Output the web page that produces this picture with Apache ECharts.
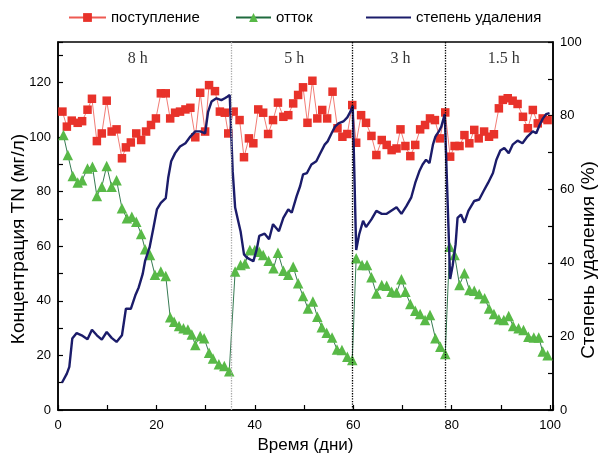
<!DOCTYPE html>
<html>
<head>
<meta charset="UTF-8">
<title>Концентрация TN</title>
<script src="https://cdn.jsdelivr.net/npm/echarts@6.0.0/dist/echarts.min.js"></script>
<style>html,body{margin:0;padding:0;background:#fff;}</style>
</head>
<body>
<div id="main" style="width:600px;height:456px;"></div>
<script type="text/javascript">
// поступление, мг/л  [день, значение]
var inflow = [
  [0.9,109.3],[1.8,103.8],[2.8,106],[4.0,105.2],[4.9,105.8],[6.0,110],[6.9,114],[7.9,98.5],[8.9,101.3],[9.9,113.3],
  [10.9,102],[11.9,102.8],[13.0,92.2],[13.8,96.2],[14.8,98],[15.9,101.3],[16.9,98.9],[17.9,102],[18.9,104.4],[19.9,106.8],
  [20.9,116],[21.9,116],[22.8,106.8],[23.8,108.9],[24.8,109.3],[25.9,110.1],[26.9,110.7],[27.9,99.9],[28.9,116.2],[29.9,102],
  [30.7,119],[31.9,116.8],[32.9,109.3],[33.9,108.9],[34.6,101.3],[35.7,109.3],[36.9,106.2],[37.8,92.6],[38.8,99.5],[39.7,97.7],
  [40.7,110.1],[41.7,108.9],[42.7,101.1],[43.7,106.2],[44.7,112.6],[45.8,107.4],[46.8,108],[47.8,112.3],[48.8,115.4],[49.8,118.2],
  [50.7,105.2],[51.7,120.6],[52.7,106.8],[53.7,109.9],[54.7,106.8],[55.8,116.6],[56.8,103.2],[57.8,100.1],[58.8,101.1],[59.8,111.7],
  [60.6,97.9],[61.6,108],[62.6,105.2],[63.7,100.4],[64.7,93.4],[65.8,98.9],[66.8,97.1],[67.8,95.2],[68.8,95.8],[69.6,102.8],
  [70.6,96.7],[71.6,93],[72.6,97.1],[73.6,102.8],[74.6,104.4],[75.6,106.8],[76.6,106.2],[77.6,99.5],[78.7,109],[79.7,92.8],
  [80.6,96.7],[81.6,96.7],[82.6,100.7],[83.6,97.7],[84.6,102.6],[85.5,99.5],[86.6,102],[87.6,100.1],[88.6,101],[89.6,110.5],
  [90.4,113.6],[91.4,114.2],[92.4,113.3],[93.4,112.1],[94.5,107.4],[95.5,103.2],[96.5,109.9],[97.5,105],[98.5,106.8],[99.5,106.2]
];
// отток, мг/л
var outflow = [
  [1.1,100.7],[2.0,93.4],[3.0,85.7],[4.0,83.3],[4.9,84.2],[6.0,88.5],[7.0,89.1],[7.9,78.4],[8.9,81.8],[9.9,89.4],
  [10.9,81.8],[11.9,84.2],[13.0,73.9],[14.0,70.2],[15.0,70.8],[15.9,69],[16.9,64.5],[17.7,58.9],[18.7,56.8],[19.7,49.5],
  [20.9,50.7],[21.9,49.1],[22.8,34],[23.6,32.3],[24.6,30.8],[25.5,29.9],[26.4,29.5],[27.2,27.7],[27.9,23.8],[28.9,27.1],
  [29.7,26.3],[30.7,21],[31.5,18.9],[32.7,16.8],[33.8,16.1],[34.8,14.2],[36.0,50.7],[37.1,53.1],[38.0,53.7],[39.0,58.6],
  [40.0,58.6],[40.9,58],[41.7,56.8],[42.8,54.7],[43.8,51.9],[44.7,57.6],[45.8,51],[46.8,49.5],[47.8,52.5],[48.8,46.4],
  [49.8,41.8],[50.8,37.2],[51.8,39.7],[52.7,34.2],[53.6,30.3],[54.6,28.3],[55.7,26.6],[56.7,22.2],[57.7,22],[58.8,19.5],
  [59.8,18.3],[60.6,55.6],[61.8,53.1],[62.8,53.1],[63.7,48.6],[64.7,42.7],[65.8,45.8],[66.8,45.5],[67.8,43.3],[68.8,43],
  [69.8,47.9],[70.6,43.3],[71.6,38.8],[72.6,36.4],[73.6,35.2],[74.6,33],[75.6,34.8],[76.7,26.3],[77.7,23.2],[78.7,20.5],
  [79.6,59.8],[80.6,56.8],[81.6,45.8],[82.6,50.1],[83.6,44],[84.6,43.7],[85.6,42.5],[86.7,40.9],[87.6,37.2],[88.6,35.2],
  [89.6,33.2],[90.6,33],[91.6,34.4],[92.5,30.8],[93.6,29.9],[94.6,29.3],[95.6,26.8],[96.7,26.6],[97.7,26.6],[98.5,21.4],
  [99.5,20.1]
];
// степень удаления, %
var removal = [
  [0.8,7.4],[1.8,9.9],[2.3,11.7],[2.9,19.4],[3.8,20.9],[4.8,20.3],[6.0,19.2],[6.9,21.8],[7.9,20.3],[8.9,19.1],
  [9.9,21.2],[10.9,19.6],[11.9,18.5],[13.0,20.3],[13.8,27.5],[14.8,27.5],[15.7,31.1],[16.4,33.3],[17.2,36.9],[17.7,40.5],
  [18.6,44.1],[19.4,49.5],[20.1,54.5],[20.9,56.3],[21.9,57.6],[22.4,63.1],[23.0,67.6],[23.8,69.8],[24.8,71.6],[25.9,72.5],
  [26.9,74.3],[27.9,75.7],[28.9,75.7],[29.9,75.2],[30.5,81],[31.2,83.8],[32.2,84.7],[33.2,84.2],[33.9,84.7],[34.4,85.1],
  [34.9,85.6],[35.5,64.9],[36.0,55],[36.7,50.9],[37.1,48.6],[37.8,42.3],[38.4,41.4],[39.7,40.4],[40.4,43.7],[40.9,47.3],
  [42.0,47.9],[42.9,46.4],[43.7,50.5],[44.9,48.6],[45.8,52.2],[46.8,54.5],[47.5,53.6],[48.5,58.1],[49.2,60.8],[49.8,64],
  [50.6,64.4],[51.5,66.7],[52.5,67.6],[53.2,69.5],[54.2,72.1],[54.8,73],[55.6,75.2],[56.3,77],[57.0,77.9],[58.0,78.4],
  [58.8,79.5],[59.4,81],[59.9,82.7],[60.6,43.5],[61.2,47.7],[62.0,51.4],[62.6,49.7],[63.7,51.8],[64.7,54.1],[65.8,53.3],
  [66.8,53.3],[67.8,54.2],[68.8,55.1],[69.8,53.3],[70.8,55.4],[71.8,57.8],[72.6,61.7],[73.5,65.1],[74.1,66.7],[74.8,68],
  [75.5,67.1],[76.2,72.1],[76.7,74.3],[77.4,75.7],[77.9,77],[78.6,80.4],[79.7,35.6],[80.2,39.2],[80.8,45],[81.2,52.2],
  [81.9,53.1],[82.6,50.9],[83.4,54.1],[84.6,56.8],[85.6,57.2],[86.5,59.5],[87.4,61.7],[88.4,64.4],[89.1,68],[89.9,70.5],
  [90.7,71.2],[91.6,69.8],[92.4,72.1],[93.4,73.2],[94.4,72.5],[95.4,74.3],[96.5,75.7],[97.2,75.2],[97.9,77.5],[98.5,79.1],
  [99.2,80.4],[99.9,80.7]
];
// режимы (время пребывания)
var phaseNames = ['8 h', '5 h', '3 h', '1.5 h'];
var phaseX = [16.2, 48, 69.6, 90.6];
var phaseY = 128.8;
var switchDays = [35.3, 59.8, 78.7];
var switchColors = ['#a8a8a8', '#000', '#000'];

var myChart = echarts.init(document.getElementById('main'));

var fontSans = '"Liberation Sans", Arial, sans-serif';

// одна легенда на серию, чтобы расставить их как в оригинале
function legendAt(item, left, width) {
  return {
    data: [item],
    top: 5,
    left: left,
    itemWidth: width,
    itemHeight: 11,
    textStyle: { fontFamily: fontSans, fontSize: 15, color: '#000' }
  };
}

var option = {
  backgroundColor: '#fff',
  animation: false,
  textStyle: { fontFamily: fontSans, color: '#000' },
  legend: [
    legendAt('поступление', 63, 37),
    legendAt('отток', 230, 35),
    legendAt({ name: 'степень удаления', itemStyle: { opacity: 0 } }, 360, 45)
  ],
  grid: {
    left: 58, right: 47, top: 42, bottom: 46,
    show: true, borderColor: '#000', borderWidth: 1.5,
    outerBoundsMode: 'none'
  },
  xAxis: {
    type: 'value',
    min: 0, max: 100.6, interval: 10,
    name: 'Время (дни)',
    nameLocation: 'middle',
    nameGap: 21,
    nameTextStyle: { fontSize: 17, color: '#000', fontFamily: fontSans },
    axisLine: { show: true, onZero: false, lineStyle: { color: '#000', width: 1.5 } },
    axisTick: { show: true, inside: true, length: 5, lineStyle: { color: '#000', width: 1.2 } },
    axisLabel: {
      fontSize: 13, color: '#000', margin: 9,
      formatter: function (v) { return v % 20 === 0 ? v : ''; }
    },
    splitLine: { show: false }
  },
  yAxis: [
    {
      type: 'value',
      min: 0, max: 134.8, interval: 10,
      name: 'Концентрация TN (мг/л)',
      nameLocation: 'middle',
      nameGap: 30,
      nameMoveOverlap: false,
      nameTextStyle: { fontSize: 19, color: '#000', fontFamily: fontSans, padding: [0, 26, 0, 0] },
      axisLine: { show: true, lineStyle: { color: '#000', width: 1.5 } },
      axisTick: { show: true, inside: true, length: 5, lineStyle: { color: '#000', width: 1.2 } },
      axisLabel: {
        fontSize: 13, color: '#000', margin: 7,
        formatter: function (v) { return v % 20 === 0 ? v : ''; }
      },
      splitLine: { show: false }
    },
    {
      type: 'value',
      position: 'right',
      min: 0, max: 100, interval: 10,
      name: 'Степень удаления (%)',
      nameLocation: 'middle',
      nameGap: 26,
      nameMoveOverlap: false,
      nameTextStyle: { fontSize: 19, color: '#000', fontFamily: fontSans, padding: [0, 68, 0, 0] },
      axisLine: { show: true, lineStyle: { color: '#000', width: 1.5 } },
      axisTick: { show: true, inside: true, length: 5, lineStyle: { color: '#000', width: 1.2 } },
      axisLabel: {
        fontSize: 13, color: '#000', margin: 7,
        formatter: function (v) { return v % 20 === 0 ? v : ''; }
      },
      splitLine: { show: false }
    }
  ],
  series: [
    {
      name: 'поступление',
      type: 'line',
      yAxisIndex: 0,
      data: inflow,
      symbol: 'rect',
      symbolSize: 8.5,
      itemStyle: { color: '#e8322a' },
      lineStyle: { color: '#ee5a52', width: 0.8 },
      z: 2
    },
    {
      name: 'отток',
      type: 'line',
      yAxisIndex: 0,
      data: outflow,
      symbol: 'triangle',
      symbolSize: 10.5,
      itemStyle: { color: '#58b947' },
      lineStyle: { color: '#1f6b3e', width: 0.9 },
      z: 2
    },
    {
      name: 'степень удаления',
      type: 'line',
      yAxisIndex: 1,
      data: removal,
      symbol: 'none',
      showSymbol: false,
      itemStyle: { color: '#1b1c6a' },
      lineStyle: { color: '#1b1c6a', width: 2.4 },
      z: 4,
      markLine: {
        silent: true,
        symbol: ['none', 'none'],
        label: { show: false },
        data: switchDays.map(function (d, i) {
          return { xAxis: d, lineStyle: { color: switchColors[i], type: 'dotted', width: 1.3 } };
        })
      }
    },
    {
      name: 'режим',
      type: 'scatter',
      yAxisIndex: 0,
      symbolSize: 0,
      silent: true,
      data: phaseNames.map(function (n, i) {
        return { name: n, value: [phaseX[i], phaseY] };
      }),
      label: {
        show: true,
        position: 'inside',
        formatter: '{b}',
        fontFamily: '"Liberation Serif", "Times New Roman", serif',
        fontSize: 16,
        color: '#000'
      }
    }
  ]
};

myChart.setOption(option);
</script>
</body>
</html>
